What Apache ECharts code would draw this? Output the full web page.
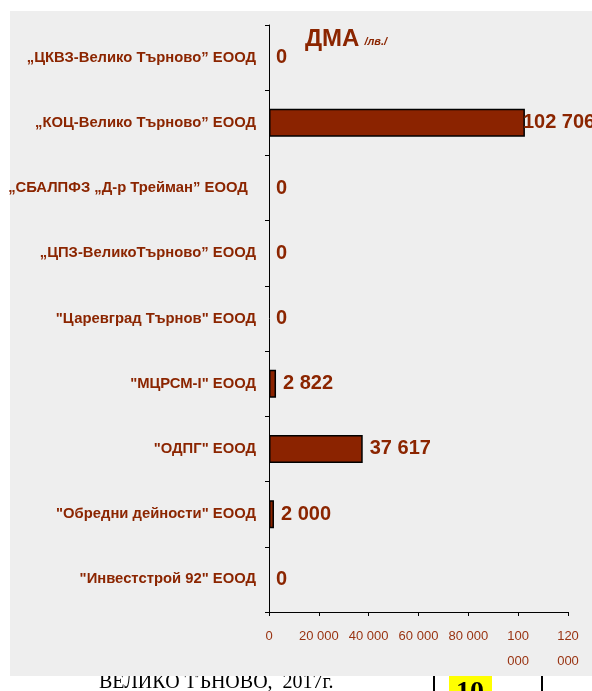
<!DOCTYPE html>
<html>
<head>
<meta charset="utf-8">
<script src="https://cdn.jsdelivr.net/npm/echarts@6/dist/echarts.min.js"></script>
<style>
  html, body { margin: 0; padding: 0; background: #fff; }
  #chart { width: 592px; height: 691px; }
</style>
</head>
<body>
<div id="chart"></div>
<script>
// data
const categories = [
    '„ЦКВЗ-Велико Търново” ЕООД',
    '„КОЦ-Велико Търново” ЕООД',
    '„СБАЛПФЗ „Д-р Трейман” ЕООД  ',
    '„ЦПЗ-ВеликоТърново” ЕООД',
    '"Царевград Търнов" ЕООД',
    '"МЦРСМ-I" ЕООД',
    '"ОДПГ" ЕООД',
    '"Обредни дейности" ЕООД',
    '"Инвестстрой 92" ЕООД'
];
const values = [0, 102706, 0, 0, 0, 2822, 37617, 2000, 0];
const axisMin = 0;
const axisMax = 120000;
const axisStep = 20000;

const textRed = '#8b2500';
const barRed = '#8b2300';

function fmt(v) {
    return String(v).replace(/\B(?=(\d{3})+(?!\d))/g, ' ');
}

const myChart = echarts.init(document.getElementById('chart'), null, { renderer: 'canvas' });

const seriesData = values.map((v) => {
    // zero bars draw nothing, only their label
    if (v === 0) {
        return { value: v, itemStyle: { borderWidth: 0 } };
    }
    // the biggest label is pulled back onto the bar end, as in the original
    if (v > 100000) {
        return { value: v, label: { offset: [-9, 0] } };
    }
    return v;
});

const option = {
    backgroundColor: '#ffffff',
    animation: false,
    title: {
        text: '{a|ДМА} {b|/лв./}',
        left: 300,
        top: 19,
        textStyle: {
            rich: {
                a: {
                    fontFamily: 'Liberation Sans, Arial, sans-serif',
                    fontSize: 24,
                    fontWeight: 'bold',
                    color: textRed,
                    lineHeight: 30
                },
                b: {
                    fontFamily: 'Liberation Sans, Arial, sans-serif',
                    fontSize: 11,
                    fontWeight: 'bold',
                    fontStyle: 'italic',
                    color: textRed,
                    lineHeight: 13,
                    verticalAlign: 'bottom',
                    padding: [0, 0, 7, 0]
                }
            }
        }
    },
    grid: {
        left: 269,
        right: 24,
        top: 25,
        bottom: 79
    },
    xAxis: {
        type: 'value',
        min: axisMin,
        max: axisMax,
        interval: axisStep,
        splitLine: { show: false },
        axisLine: { show: true, lineStyle: { color: '#000', width: 1 } },
        axisTick: { show: true, length: 4, lineStyle: { color: '#000' } },
        axisLabel: {
            margin: 12,
            fontFamily: 'Liberation Sans, Arial, sans-serif',
            fontSize: 13,
            lineHeight: 25,
            color: '#993311',
            formatter: (v) => {
                const s = fmt(v);
                return v >= 100000 ? s.replace(' ', '\n') : s;
            }
        }
    },
    yAxis: {
        type: 'category',
        inverse: true,
        data: categories,
        axisLine: { show: true, lineStyle: { color: '#000', width: 1 } },
        axisTick: { show: true, length: 4, lineStyle: { color: '#000' } },
        splitLine: { show: false },
        axisLabel: {
            margin: 13,
            fontFamily: 'Liberation Sans, Arial, sans-serif',
            fontSize: 14.8,
            fontWeight: 'bold',
            color: textRed
        }
    },
    series: [{
        type: 'bar',
        data: seriesData,
        barWidth: 28,
        itemStyle: {
            color: barRed,
            borderColor: '#000',
            borderWidth: 1.5
        },
        label: {
            show: true,
            position: 'right',
            distance: 7,
            fontFamily: 'Liberation Sans, Arial, sans-serif',
            fontSize: 20,
            fontWeight: 'bold',
            color: textRed,
            formatter: (p) => fmt(p.value)
        }
    }],
    graphic: {
        elements: [
            // grey page panel behind the plot
            {
                type: 'rect',
                z: -10,
                shape: { x: 10, y: 11, width: 582, height: 665 },
                style: { fill: '#eeeeee' }
            },
            // cut-off footer of the slide
            {
                type: 'text',
                z: -20,
                x: 99,
                y: 693,
                style: {
                    text: 'ВЕЛИКО ТЪНОВО,  2017г.',
                    font: '20px "Liberation Serif", "Times New Roman", serif',
                    fill: '#000',
                    verticalAlign: 'bottom'
                }
            },
            {
                type: 'line',
                z: -20,
                shape: { x1: 434, y1: 660, x2: 434, y2: 691 },
                style: { stroke: '#000', lineWidth: 2 }
            },
            {
                type: 'line',
                z: -20,
                shape: { x1: 542, y1: 660, x2: 542, y2: 691 },
                style: { stroke: '#000', lineWidth: 2 }
            },
            {
                type: 'rect',
                z: -20,
                shape: { x: 449, y: 660, width: 43, height: 40 },
                style: { fill: '#ffff00' }
            },
            {
                type: 'text',
                z: -19,
                x: 470,
                y: 679,
                style: {
                    text: '10',
                    font: 'bold 28px "Liberation Serif", "Times New Roman", serif',
                    fill: '#000',
                    align: 'center',
                    verticalAlign: 'top'
                }
            }
        ]
    }
};

myChart.setOption(option);
</script>
</body>
</html>
